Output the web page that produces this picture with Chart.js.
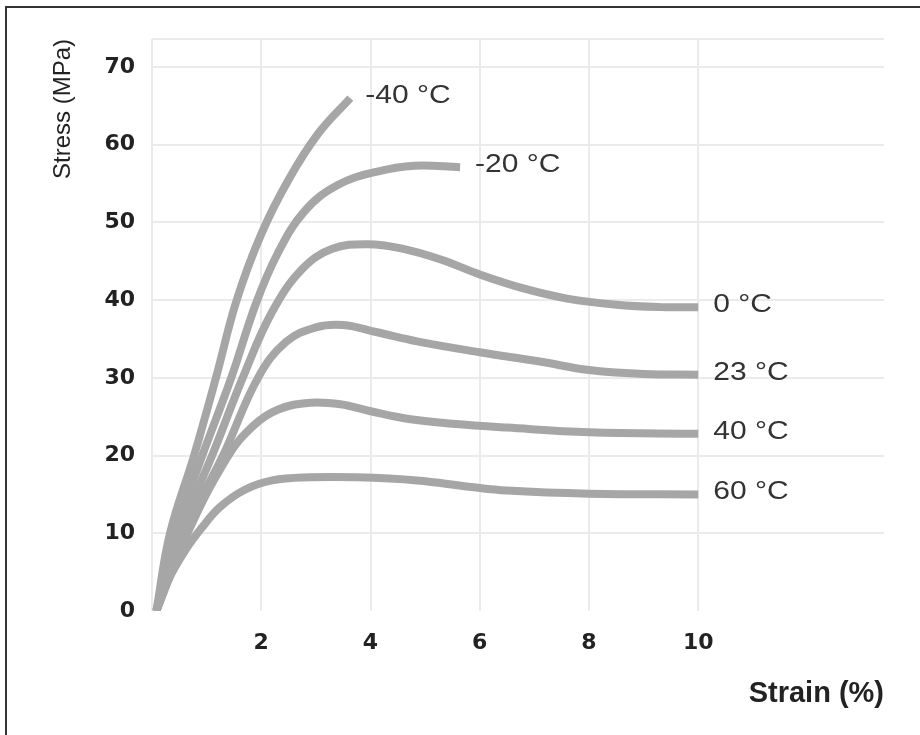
<!DOCTYPE html>
<html>
<head>
<meta charset="utf-8">
<script src="https://cdn.jsdelivr.net/npm/chart.js@4"></script>
<style>
  body { margin: 0; background: #fff; }
  #wrap { position: relative; width: 920px; height: 735px; overflow: hidden; }
  #frame { position: absolute; left: 5px; top: 6px; width: 940px; height: 760px; border: 2px solid #333; }
  canvas { position: absolute; left: 0; top: 0; }
</style>
</head>
<body>
<div id="wrap">
  <div id="frame"></div>
  <canvas id="stressChart" width="920" height="735"></canvas>
</div>
<script>
// curve names, shown at the end of each curve
const seriesNames = ["-40 °C", "-20 °C", "0 °C", "23 °C", "40 °C", "60 °C"];

// strain (%) / stress (MPa)
const strainM40 = [0.08, 0.33, 0.77, 1.17, 1.55, 2.0, 2.5, 3.05, 3.63];
const stressM40 = [0, 10, 20, 30, 40, 48.5, 55.5, 61.5, 66];

const strainM20 = [0.08, 0.42, 0.92, 1.45, 1.9, 2.3, 2.8, 3.4, 4.1, 4.8, 5.64];
const stressM20 = [0, 10, 20, 30, 39.5, 46, 51.5, 54.8, 56.5, 57.3, 57.1];

const strain0 = [0.08, 0.5, 1.1, 1.66, 2.2, 2.75, 3.3, 3.95, 4.6, 5.3, 6.0, 6.8, 7.6, 8.5, 9.3, 10.0];
const stress0 = [0, 10, 20, 30, 38.5, 44, 46.6, 47.2, 46.6, 45.2, 43.3, 41.5, 40.2, 39.4, 39.1, 39.1];

const strain23 = [0.08, 0.58, 1.3, 1.94, 2.45, 3.0, 3.5, 4.1, 4.85, 6.0, 7.1, 8.0, 9.0, 10.0];
const stress23 = [0, 10, 20, 30, 34.6, 36.5, 36.8, 35.9, 34.7, 33.3, 32.1, 31, 30.5, 30.4];

const strain40 = [0.08, 0.65, 1.38, 1.85, 2.3, 2.9, 3.45, 4.0, 4.7, 5.5, 6.5, 8.0, 10.0];
const stress40 = [0, 10, 19.8, 23.8, 25.9, 26.8, 26.6, 25.7, 24.7, 24.1, 23.6, 23.0, 22.8];

const strain60 = [0.08, 0.3, 0.6, 0.9, 1.25, 1.7, 2.2, 2.9, 3.75, 4.85, 5.8, 6.5, 8.0, 10.0];
const stress60 = [0, 4, 7.7, 10.6, 13.4, 15.6, 16.8, 17.2, 17.2, 16.8, 16.0, 15.5, 15.1, 15.0];

const strainTicks = [2, 4, 6, 8, 10];

const allStrain = [strainM40, strainM20, strain0, strain23, strain40, strain60];
const allStress = [stressM40, stressM20, stress0, stress23, stress40, stress60];

const FONT = "'Liberation Sans', Arial, sans-serif";
const TICK_FONT = "'DejaVu Sans', sans-serif";

function toPoints(xs, ys) {
  return xs.map((x, i) => ({ x: x, y: ys[i] }));
}

const datasets = seriesNames.map((name, i) => ({
  label: name,
  data: toPoints(allStrain[i], allStress[i]),
  borderColor: "#a6a6a6",
  borderWidth: 8,
  borderCapStyle: "butt",
  pointRadius: 0,
  tension: 0.4,
  clip: 0,
}));

// writes each curve name just right of its last point
// (the source picture is a bit stretched sideways, so the text is too)
const endLabels = {
  id: "endLabels",
  afterDatasetsDraw(chart) {
    const ctx = chart.ctx;
    ctx.save();
    ctx.font = "25px " + FONT;
    ctx.fillStyle = "#333";
    ctx.textBaseline = "middle";
    chart.data.datasets.forEach((ds, i) => {
      const pts = chart.getDatasetMeta(i).data;
      const last = pts[pts.length - 1];
      ctx.save();
      ctx.translate(last.x + 15, last.y - 2);
      ctx.scale(1.2, 1);
      ctx.fillText(ds.label, 0, 0);
      ctx.restore();
    });
    ctx.restore();
  },
};

new Chart(document.getElementById("stressChart"), {
  type: "line",
  data: { datasets: datasets },
  plugins: [endLabels],
  options: {
    responsive: false,
    animation: false,
    layout: { padding: { top: 39, right: 36, left: 0, bottom: 0 } },
    plugins: { legend: { display: false }, tooltip: { enabled: false } },
    scales: {
      x: {
        type: "linear",
        min: 0,
        max: 13.4,
        afterFit(scale) { scale.height = 124; },
        border: { display: false },
        grid: {
          drawTicks: false,
          lineWidth: 2,
          color: (c) => (c.tick && c.tick.value > 10 ? "rgba(0,0,0,0)" : "#ebebeb"),
        },
        ticks: {
          stepSize: 2,
          padding: 19,
          color: "#222",
          font: { family: TICK_FONT, size: 22, weight: "bold" },
          callback: (v) => (strainTicks.includes(v) ? String(v) : ""),
        },
        title: {
          display: true,
          text: "Strain (%)",
          align: "end",
          color: "#222",
          font: { family: FONT, size: 29, weight: "bold" },
          padding: { top: 0, bottom: 24 },
        },
      },
      y: {
        min: 0,
        max: 73.6,
        afterFit(scale) { scale.width = 152; },
        border: { display: false },
        grid: {
          drawTicks: false,
          lineWidth: 2,
          color: (c) => (c.tick && c.tick.value === 0 ? "rgba(0,0,0,0)" : "#ebebeb"),
        },
        ticks: {
          stepSize: 10,
          padding: 17,
          color: "#222",
          font: { family: TICK_FONT, size: 22, weight: "bold" },
          callback: (v) => (v % 10 === 0 ? String(v) : ""),
        },
        title: {
          display: true,
          text: "Stress (MPa)",
          align: "end",
          color: "#222",
          font: { family: FONT, size: 24 },
          padding: { top: 49, bottom: 0 },
        },
      },
    },
  },
});
</script>
</body>
</html>
